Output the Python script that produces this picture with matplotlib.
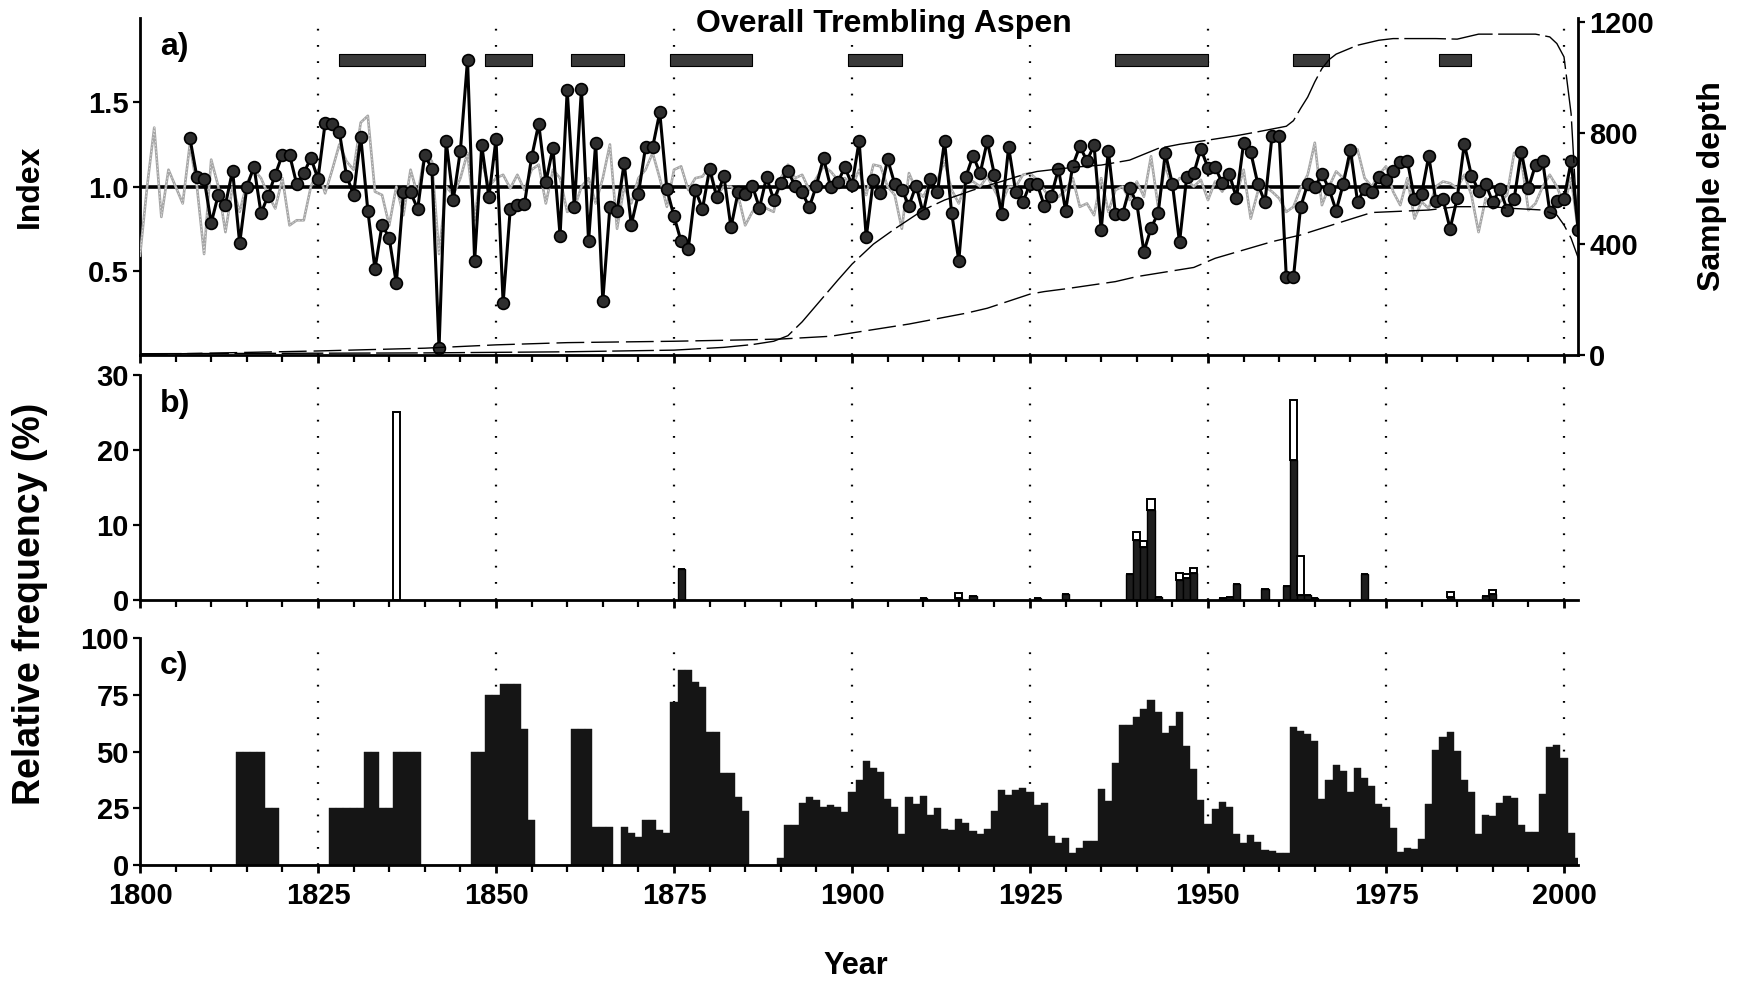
"""
plot.py
-------
Overall Trembling Aspen -- indice de croissance, frequence relative
des annees de defoliation (b) et des annees de suppression (c).
"""

import numpy as np
import matplotlib
matplotlib.use("Agg")
import matplotlib.pyplot as plt
from matplotlib.ticker import MultipleLocator, FormatStrFormatter


# ─────────────────────────────────────────────────────────────
# Donnees
# ─────────────────────────────────────────────────────────────

# a) chronologie noire (points), 1807-2002
index_years = list(range(1807, 2003))
index_values = [
    1.29, 1.055, 1.046, 0.784, 0.952, 0.893, 1.095, 0.663, 0.996, 1.119,
    0.842, 0.947, 1.071, 1.19, 1.19, 1.016, 1.079, 1.17, 1.046, 1.376,
    1.372, 1.323, 1.065, 0.952, 1.297, 0.857, 0.511, 0.774, 0.695, 0.426,
    0.966, 0.966, 0.867, 1.19, 1.103, 0.04, 1.269, 0.923, 1.214, 1.752,
    0.560, 1.244, 0.937, 1.281, 0.31, 0.867, 0.893, 0.897, 1.174, 1.372,
    1.026, 1.23, 0.709, 1.574, 0.877, 1.58, 0.675, 1.261, 0.323, 0.881,
    0.853, 1.139, 0.774, 0.956, 1.234, 1.234, 1.44, 0.984, 0.824, 0.675,
    0.63, 0.98, 0.867, 1.105, 0.937, 1.065, 0.758, 0.966, 0.956, 1.006,
    0.873, 1.055, 0.921, 1.02, 1.091, 1.006, 0.966, 0.877, 1.006, 1.17,
    0.996, 1.026, 1.115, 1.01, 1.269, 0.699, 1.04, 0.96, 1.162, 1.016,
    0.98, 0.887, 1.006, 0.842, 1.046, 0.966, 1.269, 0.842, 0.56, 1.059,
    1.184, 1.079, 1.269, 1.071, 0.838, 1.234, 0.966, 0.907, 1.016, 1.016,
    0.887, 0.947, 1.105, 0.857, 1.125, 1.238, 1.154, 1.244, 0.743, 1.214,
    0.838, 0.838, 0.992, 0.901, 0.614, 0.754, 0.842, 1.198, 1.016, 0.669,
    1.055, 1.078, 1.225, 1.11, 1.115, 1.022, 1.075, 0.931, 1.259, 1.204,
    1.016, 0.907, 1.303, 1.303, 0.461, 0.461, 0.877, 1.016, 0.996, 1.075,
    0.986, 0.857, 1.016, 1.22, 0.911, 0.986, 0.966, 1.055, 1.042, 1.095,
    1.145, 1.154, 0.927, 0.956, 1.18, 0.917, 0.927, 0.749, 0.931, 1.253,
    1.065, 0.976, 1.016, 0.907, 0.986, 0.863, 0.927, 1.208, 0.99, 1.129,
    1.154, 0.851, 0.917, 0.927, 1.149, 0.745,
]

# a) chronologie grise, 1800-2002
ref_years = list(range(1800, 2003))
ref_values = [
    0.59, 1.0, 1.35, 0.82, 1.1, 1.0, 0.9, 1.25, 1.0, 0.6,
    1.16, 1.0, 0.73, 1.0, 0.85, 1.02, 1.1, 1.05, 0.95, 0.87,
    1.05, 0.77, 0.8, 0.8, 1.0, 1.1, 0.96, 1.1, 1.25, 1.15,
    1.1, 1.38, 1.42, 0.97, 0.95, 0.77, 1.0, 0.83, 1.1, 0.95,
    1.2, 1.15, 0.6, 1.0, 0.95, 1.05, 1.2, 0.8, 1.15, 1.0,
    1.05, 1.07, 0.99, 1.07, 0.98, 1.1, 1.13, 0.9, 1.1, 1.05,
    0.85, 0.87, 1.0, 1.05, 0.9, 1.05, 1.25, 0.75, 1.0, 0.9,
    1.05, 1.1, 1.2, 1.05, 0.88, 1.1, 1.12, 0.98, 1.05, 1.06,
    1.12, 0.95, 1.0, 1.0, 0.95, 0.77, 0.85, 0.9, 0.87, 0.85,
    1.05, 1.13, 1.05, 1.07, 0.98, 1.05, 1.12, 1.09, 1.04, 1.05,
    1.0, 1.1, 0.95, 1.13, 1.12, 1.0, 0.95, 0.75, 1.08, 0.98,
    0.94, 1.02, 1.04, 1.15, 0.98, 0.9, 1.02, 1.03, 1.0, 1.06,
    0.98, 0.9, 1.0, 1.0, 1.07, 1.08, 1.04, 0.98, 0.92, 0.94,
    0.98, 1.05, 0.88, 0.9, 0.83, 1.05, 0.85, 0.98, 1.0, 0.92,
    1.03, 0.94, 1.18, 0.88, 1.13, 0.98, 1.05, 1.04, 1.0, 1.04,
    0.92, 1.03, 0.97, 1.05, 0.95, 1.1, 0.81, 0.97, 1.0, 0.97,
    0.93, 0.85, 0.88, 0.99, 1.07, 1.26, 0.89, 1.0, 1.09, 1.05,
    1.16, 1.22, 1.05, 1.0, 1.07, 1.12, 0.97, 0.89, 1.05, 0.81,
    0.91, 0.87, 1.0, 1.03, 1.02, 0.99, 1.07, 0.95, 0.73, 0.93,
    0.87, 0.91, 0.95, 1.2, 1.16, 0.86, 0.9, 1.0, 1.07, 1.0,
    0.89, 1.05, 0.73,
]

# a) profondeur d'echantillonnage (deux courbes, axe de droite)
depth_a_years = [1800, 1840, 1860, 1875, 1882, 1886, 1889, 1891, 1893, 1896,
                 1898, 1900, 1903, 1906, 1910, 1913, 1917, 1921, 1924, 1926,
                 1929, 1932, 1935, 1939, 1943, 1946, 1950, 1954, 1957, 1961,
                 1962, 1963, 1964, 1965, 1966, 1967, 1968, 1971, 1974, 1976,
                 1982, 1985, 1988, 1996, 1998, 1999, 2000, 2001, 2002]
depth_a_values = [5, 8, 12, 18, 28, 38, 50, 70, 120, 210,
                  270, 328, 400, 455, 523, 559, 595, 626, 650, 662,
                  671, 679, 685, 703, 745, 760, 775, 791, 805, 825,
                  845, 889, 930, 985, 1033, 1065, 1085, 1117, 1135, 1141,
                  1141, 1139, 1157, 1157, 1147, 1123, 1075, 870, 420]

depth_b_years = [1800, 1825, 1840, 1850, 1860, 1875, 1885, 1890, 1897, 1905,
                 1908, 1916, 1919, 1925, 1927, 1930, 1937, 1940, 1948, 1951,
                 1959, 1963, 1970, 1973, 1981, 1985, 1990, 1992, 1997, 1999,
                 2000, 2001, 2002]
depth_b_values = [2, 15, 25, 37, 45, 50, 55, 58, 68, 100,
                  112, 151, 169, 220, 229, 239, 265, 283, 316, 349,
                  409, 433, 490, 514, 523, 535, 535, 530, 523, 505,
                  469, 421, 350]

# a) periodes marquees (barres en haut) : (debut, fin)
periods = [(1828, 1840), (1848.5, 1855), (1860.5, 1868), (1874.5, 1886),
           (1899.5, 1907), (1937, 1950), (1962, 1967), (1982.5, 1987)]

# b) frequence relative (%) : part noire + part blanche empilee
freq_years = [1836, 1876, 1910, 1915, 1917, 1926, 1930, 1939, 1940, 1941,
              1942, 1943, 1946, 1947, 1948, 1952, 1953, 1954, 1958, 1961,
              1962, 1963, 1964, 1965, 1972, 1984, 1989, 1990]
freq_black = [0, 4.1, 0.2, 0.3, 0.5, 0.3, 0.8, 3.4, 8.0, 7.1,
              12.0, 0.4, 2.7, 2.9, 3.6, 0.3, 0.4, 2.1, 1.5, 1.9,
              18.6, 0.7, 0.7, 0.3, 3.4, 0.4, 0.5, 0.8]
freq_white = [25, 0, 0.1, 0.6, 0, 0, 0, 0, 1.0, 0.8,
              1.4, 0, 0.9, 0.5, 0.7, 0, 0, 0, 0, 0,
              8.1, 5.1, 0, 0, 0, 0.7, 0, 0.5]

# c) frequence relative (%), 1800-2002
supp_years = list(range(1800, 2003))
supp_values = [
    0, 0, 0, 0, 0, 0, 0, 0, 0, 0,
    0, 0, 0, 0, 50, 50, 50, 50, 25, 25,
    0, 0, 0, 0, 0, 0, 0, 25, 25, 25,
    25, 25, 50, 50, 25, 25, 50, 50, 50, 50,
    0, 0, 0, 0, 0, 0, 0, 50, 50, 75,
    75, 80, 80, 80, 60, 20, 0, 0, 0, 0,
    0, 60, 60, 60, 16.6, 16.6, 16.6, 0, 16.6, 14.3,
    12.2, 20, 20, 15.4, 14, 72, 86, 86, 80.7, 78.5,
    58.6, 58.6, 40.6, 40.6, 30.2, 24, 0, 0, 0, 0,
    3, 17.7, 17.7, 27.3, 30.2, 28.8, 25.5, 26.5, 25.5, 23.6,
    32.4, 37.3, 46, 43, 40.9, 29.2, 25.8, 13.7, 29.8, 26.8,
    30.5, 22.1, 25.1, 15.8, 15.3, 20.2, 18.4, 15, 13.7, 15.8,
    24, 32.9, 30.7, 32.9, 34.2, 32.2, 26.3, 27.3, 13, 9.6,
    12.1, 5.5, 7.7, 10.8, 10.6, 33.7, 28.4, 45.2, 61.8, 61.8,
    65.2, 68.9, 72.9, 67.4, 58.1, 61.4, 67.4, 52.7, 42.3, 28.6,
    18, 24.6, 27.9, 25.4, 13.6, 9.9, 13.3, 10.3, 6.5, 6,
    5.5, 5.2, 61, 59.3, 57.8, 54.9, 29, 37.5, 44.2, 41.3,
    32, 43, 38.3, 35, 27.1, 25.7, 16.5, 5.8, 7.7, 7.2,
    11.4, 26.8, 50.7, 56.3, 58.6, 50.4, 37.6, 32.4, 13.6, 22.1,
    21.7, 27.3, 30.5, 29.5, 17.6, 14.6, 14.6, 31.3, 52.2, 53.1,
    47.2, 14, 3.2,
]

decade_lines = [1825, 1850, 1875, 1900, 1925, 1950, 1975, 2000]


# ─────────────────────────────────────────────────────────────
# Style commun
# ─────────────────────────────────────────────────────────────

plt.rcParams["font.family"] = ["Liberation Sans", "DejaVu Sans"]
plt.rcParams["font.weight"] = "bold"

FS_TICK = 21
FS_LABEL = 23
XMIN, XMAX = 1800, 2002


def _style_axis(ax, labels=False):
    """Axes communs : spines, ticks annees (5 ans / 25 ans), lignes pointillees."""
    ax.set_xlim(XMIN, XMAX)
    for side in ("top", "right"):
        ax.spines[side].set_visible(False)
    for side in ("left", "bottom"):
        ax.spines[side].set_linewidth(2.0)
    ax.xaxis.set_major_locator(MultipleLocator(25))
    ax.xaxis.set_minor_locator(MultipleLocator(5))
    ax.tick_params(axis="x", which="major", direction="out", length=6, width=2,
                   labelbottom=labels, labelsize=FS_TICK, pad=6)
    ax.tick_params(axis="x", which="minor", direction="out", length=5, width=1.6)
    ax.tick_params(axis="y", direction="out", length=5, width=1.6,
                   labelsize=FS_TICK, pad=3)
    for yr in decade_lines:
        ax.axvline(yr, color="black", lw=1.6, linestyle=(0, (0.8, 6.5)), zorder=0)


# ─────────────────────────────────────────────────────────────
# Figure
# ─────────────────────────────────────────────────────────────

fig = plt.figure(figsize=(17.37, 9.81), dpi=100)
ax_a = fig.add_axes([0.0806, 0.638, 0.828, 0.3436])
ax_b = fig.add_axes([0.0806, 0.3884, 0.828, 0.2294])
ax_c = fig.add_axes([0.0806, 0.1182, 0.828, 0.2311])

# a) indices
_style_axis(ax_a)
ax_a.set_ylim(0, 2.0)
ax_a.set_yticks([0.5, 1.0, 1.5])
ax_a.yaxis.set_major_formatter(FormatStrFormatter("%.1f"))
ax_a.axhline(1.0, color="black", lw=2.6, zorder=2)
ax_a.plot(ref_years, ref_values, color="#a6a6a6", lw=1.9, zorder=3)
ax_a.plot(ref_years, ref_values, color="white", lw=0.5, ls=(0, (2, 3)),
          alpha=0.8, zorder=3)
ax_a.plot(index_years, index_values, color="black", lw=2.2, marker="o",
          ms=8.5, mfc="#2e2e2e", mec="black", mew=1.2, zorder=4)
ax_a.broken_barh([(s, e - s) for s, e in periods], (1.715, 0.07),
                 facecolor="#3a3a3a", edgecolor="black", lw=0.8, zorder=4)
ax_a.text(1802.8, 0.915, "a)", transform=ax_a.get_xaxis_transform(),
          fontsize=FS_LABEL, fontweight="bold", va="center")
ax_a.text(1904.5, 0.982, "Overall Trembling Aspen",
          transform=ax_a.get_xaxis_transform(), fontsize=FS_LABEL,
          fontweight="bold", ha="center", va="center")

ax_d = ax_a.twinx()
ax_d.set_xlim(XMIN, XMAX)
ax_d.set_ylim(0, 1215)
ax_d.set_yticks([0, 400, 800, 1200])
for side in ("top", "left", "bottom"):
    ax_d.spines[side].set_visible(False)
ax_d.spines["right"].set_linewidth(2.0)
ax_d.tick_params(axis="y", direction="out", length=5, width=1.6,
                 labelsize=FS_TICK, pad=3)
ax_d.plot(depth_a_years, depth_a_values, color="black", lw=1.0,
          dashes=(30, 4), zorder=1)
ax_d.plot(depth_b_years, depth_b_values, color="black", lw=1.0,
          dashes=(20, 5), zorder=1)

# b) frequence relative
_style_axis(ax_b)
ax_b.set_ylim(0, 30)
ax_b.set_yticks([0, 10, 20, 30])
ax_b.bar(freq_years, freq_black, width=1.0, color="#1e1e1e",
         edgecolor="black", lw=1.0, zorder=2)
ax_b.bar(freq_years, freq_white, width=1.0, bottom=freq_black,
         color="white", edgecolor="black", lw=1.4, zorder=2)
ax_b.text(1802.8, 0.87, "b)", transform=ax_b.get_xaxis_transform(),
          fontsize=FS_LABEL, fontweight="bold", va="center")

# c) frequence relative
_style_axis(ax_c, labels=True)
ax_c.set_ylim(0, 100)
ax_c.set_yticks([0, 25, 50, 75, 100])
ax_c.bar(supp_years, supp_values, width=1.0, color="#151515",
         edgecolor="#151515", lw=0.3, zorder=2)
ax_c.text(1802.8, 0.88, "c)", transform=ax_c.get_xaxis_transform(),
          fontsize=FS_LABEL, fontweight="bold", va="center")

# libelles
fig.text(30 / 1737, 1 - 186 / 981, "Index", rotation=90, fontsize=FS_LABEL,
         fontweight="bold", ha="center", va="center")
fig.text(30 / 1737, 1 - 604 / 981, "Relative frequency (%)", rotation=90,
         fontsize=27, fontweight="bold", ha="center", va="center")
fig.text(1712 / 1737, 1 - 186 / 981, "Sample depth", rotation=90,
         fontsize=FS_LABEL, fontweight="bold", ha="center", va="center")
fig.text(856 / 1737, 1 - 966 / 981, "Year", fontsize=22,
         fontweight="bold", ha="center", va="center")

fig.savefig("out.png", dpi=100)
